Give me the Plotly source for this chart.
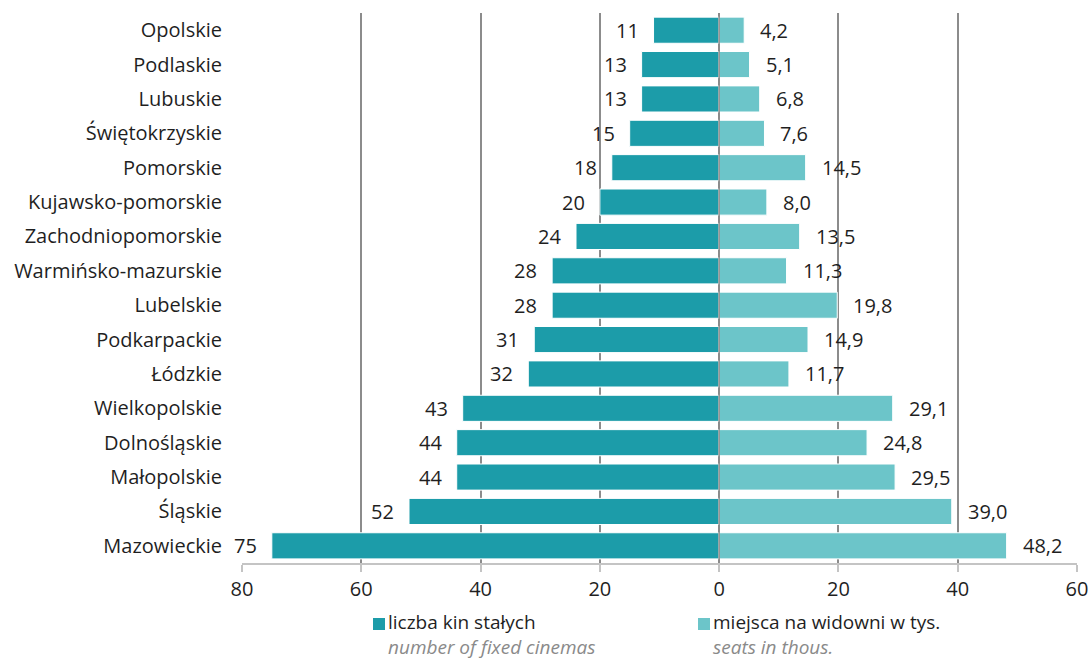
import plotly.graph_objects as go

regions = [
    "Opolskie", "Podlaskie", "Lubuskie", "Świętokrzyskie", "Pomorskie",
    "Kujawsko-pomorskie", "Zachodniopomorskie", "Warmińsko-mazurskie",
    "Lubelskie", "Podkarpackie", "Łódzkie", "Wielkopolskie", "Dolnośląskie",
    "Małopolskie", "Śląskie", "Mazowieckie",
]
cinemas = [11, 13, 13, 15, 18, 20, 24, 28, 28, 31, 32, 43, 44, 44, 52, 75]
seats = [4.2, 5.1, 6.8, 7.6, 14.5, 8.0, 13.5, 11.3, 19.8, 14.9, 11.7, 29.1, 24.8, 29.5, 39.0, 48.2]
tick_vals = [-80, -60, -40, -20, 0, 20, 40, 60]
tick_text = ["80", "60", "40", "20", "0", "20", "40", "60"]

DARK = "#1c9ca9"
LIGHT = "#6cc5c9"
FONT = "Open Sans, Lato, sans-serif"
SIZE = 20
TXT = "#1f1f1f"

fig = go.Figure()
fig.add_trace(go.Bar(
    y=regions, x=[-v for v in cinemas], orientation="h",
    marker=dict(color=DARK, line=dict(color="white", width=1)),
    name="liczba kin stałych", showlegend=False, hoverinfo="skip",
))
fig.add_trace(go.Bar(
    y=regions, x=seats, orientation="h",
    marker=dict(color=LIGHT, line=dict(color="white", width=1)),
    name="miejsca na widowni w tys.", showlegend=False, hoverinfo="skip",
))

# value labels beside each bar
for r, c, s in zip(regions, cinemas, seats):
    fig.add_annotation(x=-c, y=r, text=str(c), showarrow=False,
                       xanchor="right", xshift=-13,
                       font=dict(family=FONT, size=SIZE, color=TXT))
    fig.add_annotation(x=s, y=r, text=f"{s:.1f}".replace(".", ","), showarrow=False,
                       xanchor="left", xshift=14,
                       font=dict(family=FONT, size=SIZE, color=TXT))

# zero line drawn over the bars
fig.add_shape(type="line", x0=0, x1=0, y0=0, y1=1, xref="x", yref="paper",
              line=dict(color="#8c8c8c", width=1.5), layer="above")

# legend: plot area spans 242..1077 px horizontally, 13..563 px vertically
L, W, T, H = 242, 835, 13, 550
def px(x):
    return (x - L) / W
def py(y):
    return (T + H - y) / H

legend_items = [
    (373, DARK, "liczba kin stałych", "number of fixed cinemas"),
    (698, LIGHT, "miejsca na widowni w tys.", "seats in thous."),
]
for x0, col, pl, en in legend_items:
    fig.add_shape(type="rect", xref="paper", yref="paper",
                  x0=px(x0), x1=px(x0 + 12), y0=py(630), y1=py(618),
                  fillcolor=col, line=dict(width=0))
    fig.add_annotation(xref="paper", yref="paper", x=px(x0 + 14), y=py(634),
                       text=f"{pl}<br><span style='color:#8a8a8a'><i>{en}</i></span>",
                       showarrow=False, xanchor="left", yanchor="middle",
                       align="left", borderpad=0,
                       font=dict(family=FONT, size=19, color=TXT))

fig.update_layout(
    width=1091, height=659,
    margin=dict(l=L, r=1091 - L - W, t=T, b=659 - T - H, autoexpand=False),
    paper_bgcolor="white", plot_bgcolor="white",
    barmode="relative", bargap=0.24,
    font=dict(family=FONT, size=SIZE, color=TXT),
    xaxis=dict(
        range=[-80, 60], tickvals=tick_vals, ticktext=tick_text,
        showgrid=True, gridcolor="#8c8c8c", gridwidth=1.5, zeroline=False,
        showline=True, linecolor="#c4c4c4", linewidth=2,
        ticks="outside", ticklen=7, tickcolor="#c4c4c4", tickwidth=2,
        tickfont=dict(family=FONT, size=SIZE, color=TXT), automargin=False,
    ),
    yaxis=dict(
        categoryorder="array", categoryarray=regions, autorange="reversed",
        showgrid=False, zeroline=False, showline=False, ticks="",
        ticklabelstandoff=19, automargin=False,
        tickfont=dict(family=FONT, size=SIZE, color=TXT),
    ),
)

fig.write_html("out.html")
